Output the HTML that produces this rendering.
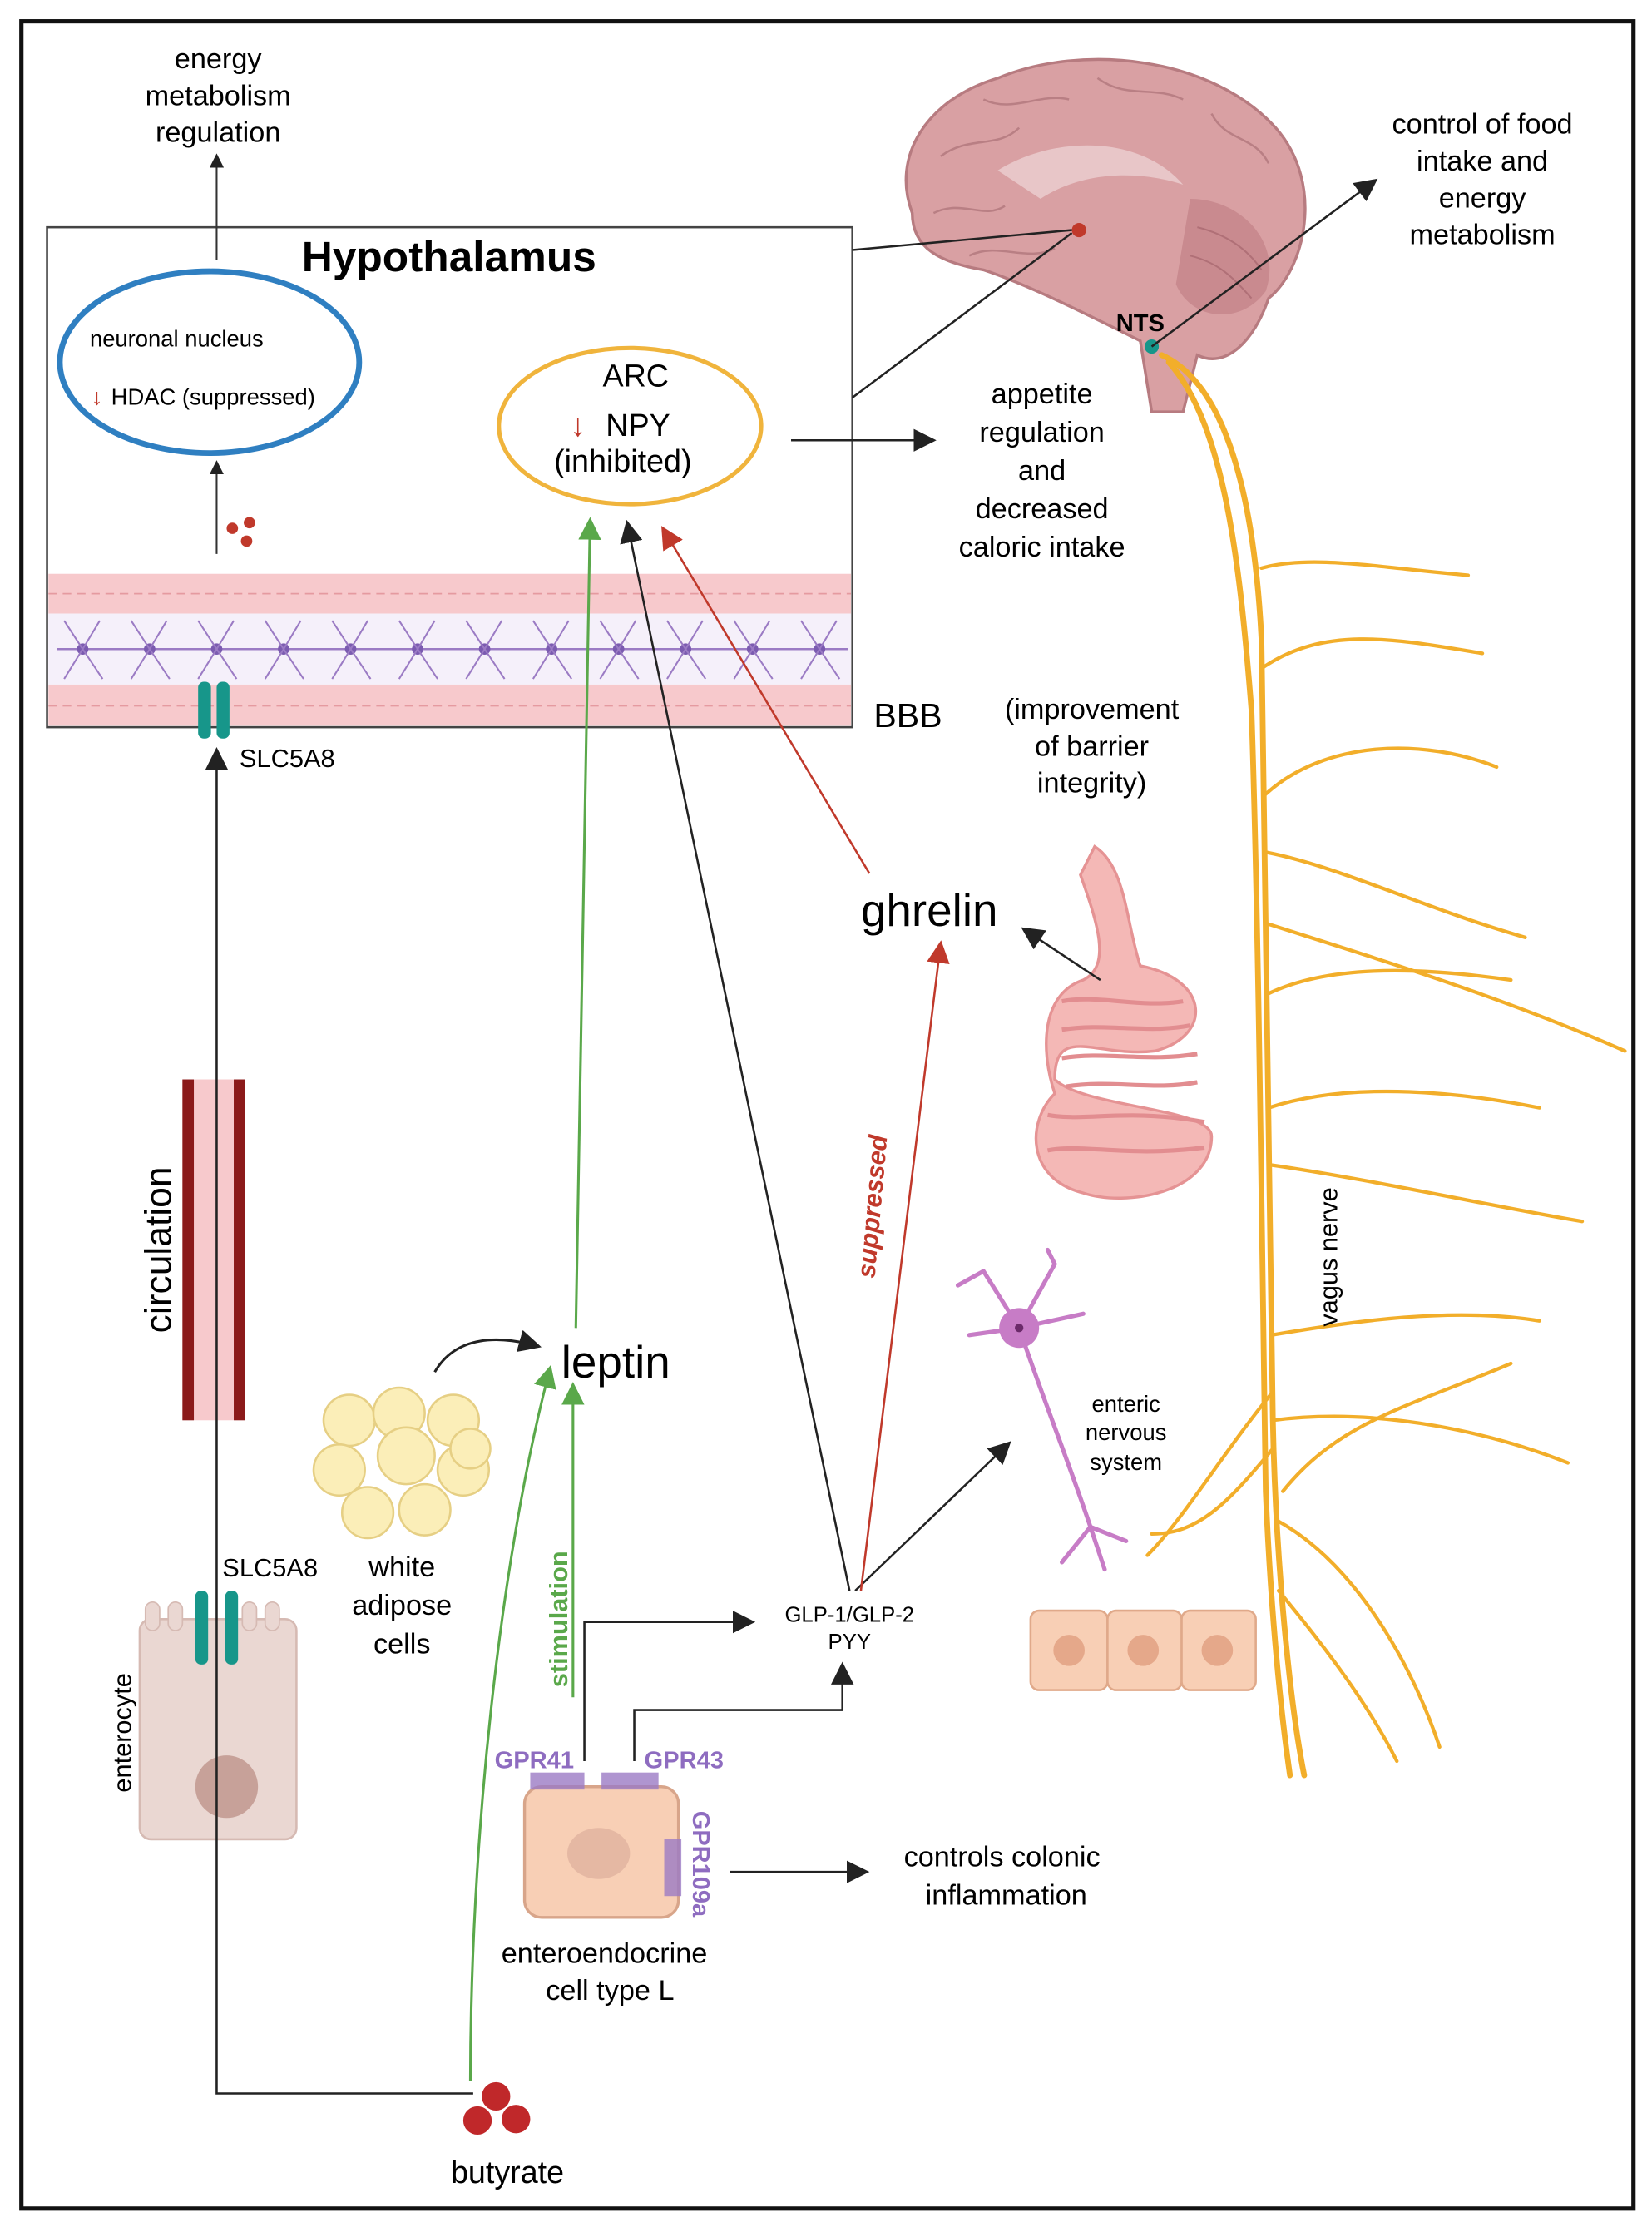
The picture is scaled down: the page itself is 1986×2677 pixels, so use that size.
<!DOCTYPE html>
<html><head><meta charset="utf-8"><style>
html,body{margin:0;padding:0;background:#fff}
svg{display:block}
text{font-family:"Liberation Sans",sans-serif}
</style></head><body>
<svg width="1986" height="2677" viewBox="0 0 1159 1568" preserveAspectRatio="none" xmlns="http://www.w3.org/2000/svg">
<defs>
<marker id="ak" markerWidth="10" markerHeight="10" refX="8" refY="5" orient="auto" markerUnits="userSpaceOnUse"><path d="M0,0 L10,5 L0,10 Z" fill="#222"/></marker>
<marker id="ak2" markerWidth="16" markerHeight="16" refX="14" refY="8" orient="auto" markerUnits="userSpaceOnUse"><path d="M0,0 L16,8 L0,16 Z" fill="#222"/></marker>
<marker id="ag" markerWidth="16" markerHeight="16" refX="14" refY="8" orient="auto" markerUnits="userSpaceOnUse"><path d="M0,0 L16,8 L0,16 Z" fill="#5aa84a"/></marker>
<marker id="ar" markerWidth="16" markerHeight="16" refX="14" refY="8" orient="auto" markerUnits="userSpaceOnUse"><path d="M0,0 L16,8 L0,16 Z" fill="#c0392b"/></marker>
</defs>
<rect x="0" y="0" width="1159" height="1568" fill="#fff"/>
<rect x="15" y="15" width="1131" height="1540" fill="none" stroke="#111" stroke-width="3"/>

<!-- hypothalamus box -->
<rect x="33" y="160" width="565" height="352" fill="#fff" stroke="#444" stroke-width="1.5"/>
<text x="315" y="191" font-size="30" font-weight="bold" text-anchor="middle">Hypothalamus</text>
<ellipse cx="147" cy="255" rx="105" ry="64" fill="none" stroke="#2f7fc1" stroke-width="4"/>
<text x="63" y="244" font-size="16">neuronal nucleus</text>
<text x="64" y="285" font-size="16" fill="#c0392b">↓</text>
<text x="78" y="285" font-size="16">HDAC  (suppressed)</text>
<ellipse cx="442" cy="300" rx="92" ry="55" fill="none" stroke="#f0b43c" stroke-width="3"/>
<text x="446" y="272" font-size="22" text-anchor="middle">ARC</text>
<text x="400" y="307" font-size="22" fill="#c0392b">↓</text>
<text x="425" y="307" font-size="22">NPY</text>
<text x="437" y="332" font-size="22" text-anchor="middle">(inhibited)</text>
<line x1="152" y1="390" x2="152" y2="326" stroke="#333" stroke-width="1.2" marker-end="url(#ak)"/>
<circle cx="163" cy="372" r="4" fill="#c0392b"/><circle cx="175" cy="368" r="4" fill="#c0392b"/><circle cx="173" cy="381" r="4" fill="#c0392b"/>
<line x1="152" y1="183" x2="152" y2="110" stroke="#333" stroke-width="1.2" marker-end="url(#ak)"/>
<text x="153" y="48" font-size="20" text-anchor="middle">energy</text>
<text x="153" y="74" font-size="20" text-anchor="middle">metabolism</text>
<text x="153" y="100" font-size="20" text-anchor="middle">regulation</text>

<!-- BBB -->
<rect x="34" y="404" width="563" height="28" fill="#f7c9cc"/>
<rect x="34" y="432" width="563" height="50" fill="#f5f0fa"/>
<rect x="34" y="482" width="563" height="29" fill="#f7c9cc"/>
<line x1="34" y1="418" x2="597" y2="418" stroke="#e59aa0" stroke-width="1" stroke-dasharray="6 4"/>
<line x1="34" y1="497" x2="597" y2="497" stroke="#e59aa0" stroke-width="1" stroke-dasharray="6 4"/>
<path d="M40,457 H595" stroke="#9b7bc4" stroke-width="1.5" fill="none"/>
<g fill="#7b5bb0">
<circle cx="58" cy="457" r="4"/><circle cx="105" cy="457" r="4"/><circle cx="152" cy="457" r="4"/><circle cx="199" cy="457" r="4"/><circle cx="246" cy="457" r="4"/><circle cx="293" cy="457" r="4"/><circle cx="340" cy="457" r="4"/><circle cx="387" cy="457" r="4"/><circle cx="434" cy="457" r="4"/><circle cx="481" cy="457" r="4"/><circle cx="528" cy="457" r="4"/><circle cx="575" cy="457" r="4"/>
</g>
<g stroke="#9b7bc4" stroke-width="1.2" fill="none">
<path d="M45,437 L58,457 L70,437 M45,478 L58,457 L72,478 M92,437 L105,457 L117,437 M92,478 L105,457 L119,478 M139,437 L152,457 L164,437 M139,478 L152,457 L166,478 M186,437 L199,457 L211,437 M186,478 L199,457 L213,478 M233,437 L246,457 L258,437 M233,478 L246,457 L260,478 M280,437 L293,457 L305,437 M280,478 L293,457 L307,478 M327,437 L340,457 L352,437 M327,478 L340,457 L354,478 M374,437 L387,457 L399,437 M374,478 L387,457 L401,478 M421,437 L434,457 L446,437 M421,478 L434,457 L448,478 M468,437 L481,457 L493,437 M468,478 L481,457 L495,478 M515,437 L528,457 L540,437 M515,478 L528,457 L542,478 M562,437 L575,457 L587,437 M562,478 L575,457 L589,478"/>
</g>
<rect x="139" y="480" width="9" height="40" rx="4" fill="#17968a"/>
<rect x="152" y="480" width="9" height="40" rx="4" fill="#17968a"/>
<text x="168" y="540" font-size="18">SLC5A8</text>
<text x="613" y="512" font-size="24">BBB</text>
<text x="766" y="506" font-size="20" text-anchor="middle">(improvement</text>
<text x="766" y="532" font-size="20" text-anchor="middle">of barrier</text>
<text x="766" y="558" font-size="20" text-anchor="middle">integrity)</text>

<!-- brain -->
<path d="M640,150 C625,110 650,70 700,55 C760,30 850,40 895,90 C930,130 915,190 890,210 C880,240 860,260 840,250 L830,290 L808,290 L800,240 C760,220 720,200 690,190 C660,185 640,175 640,150 Z" fill="#d9a0a3" stroke="#b77b80" stroke-width="2"/>
<g stroke="#b97f84" stroke-width="1.5" fill="none">
<path d="M660,110 C680,95 700,105 715,90 M690,70 C710,80 730,65 750,70 M770,55 C790,70 810,60 830,70 M850,80 C860,100 880,95 890,115 M655,150 C675,140 690,155 705,145 M680,180 C700,170 720,185 740,175"/>
</g>
<path d="M835,140 C870,140 900,170 888,205 C870,230 835,225 825,200 Z" fill="#c98a8f"/>
<g stroke="#b07077" stroke-width="1.2" fill="none"><path d="M840,160 C860,165 875,175 885,190 M835,180 C855,185 865,195 878,210"/></g>
<path d="M700,120 C740,95 800,95 830,130 C800,120 760,120 730,140 Z" fill="#e8c6c8"/>
<circle cx="757" cy="162" r="5" fill="#c0392b"/>
<line x1="598" y1="176" x2="752" y2="162" stroke="#222" stroke-width="1.5"/>
<line x1="598" y1="280" x2="752" y2="164" stroke="#222" stroke-width="1.5"/>
<text x="800" y="233" font-size="17" font-weight="bold" text-anchor="middle">NTS</text>
<circle cx="808" cy="244" r="5" fill="#17968a"/>
<line x1="808" y1="244" x2="965" y2="127" stroke="#222" stroke-width="1.5" marker-end="url(#ak2)"/>
<text x="1040" y="94" font-size="20" text-anchor="middle">control of food</text>
<text x="1040" y="120" font-size="20" text-anchor="middle">intake and</text>
<text x="1040" y="146" font-size="20" text-anchor="middle">energy</text>
<text x="1040" y="172" font-size="20" text-anchor="middle">metabolism</text>

<line x1="555" y1="310" x2="655" y2="310" stroke="#222" stroke-width="1.5" marker-end="url(#ak2)"/>
<text x="731" y="284" font-size="20" text-anchor="middle">appetite</text>
<text x="731" y="311" font-size="20" text-anchor="middle">regulation</text>
<text x="731" y="338" font-size="20" text-anchor="middle">and</text>
<text x="731" y="365" font-size="20" text-anchor="middle">decreased</text>
<text x="731" y="392" font-size="20" text-anchor="middle">caloric intake</text>

<!-- vagus nerve -->
<g stroke="#f2ae2a" stroke-width="4" fill="none" stroke-linecap="round">
<path d="M815,250 C860,270 880,350 885,450 C888,600 890,800 893,1000 C895,1100 905,1200 915,1250"/>
<path d="M820,255 C860,300 870,400 878,500 C883,650 885,850 888,1050 C890,1100 895,1180 905,1250"/>
</g>
<g stroke="#f2ae2a" stroke-width="2.5" fill="none" stroke-linecap="round">
<path d="M885,400 C920,390 970,400 1030,405"/>
<path d="M886,470 C930,440 980,450 1040,460"/>
<path d="M887,560 C930,520 1000,520 1050,540"/>
<path d="M888,600 C940,610 1000,640 1070,660"/>
<path d="M888,650 C950,670 1050,700 1140,740"/>
<path d="M889,700 C930,680 990,680 1060,690"/>
<path d="M890,780 C950,760 1030,770 1080,780"/>
<path d="M890,820 C960,830 1050,850 1110,860"/>
<path d="M892,940 C950,930 1020,920 1080,930"/>
<path d="M893,1000 C970,990 1050,1010 1100,1030"/>
<path d="M895,1070 C950,1100 990,1170 1010,1230"/>
<path d="M897,1120 C930,1160 960,1200 980,1240"/>
<path d="M893,980 C860,1020 830,1070 805,1095"/>
<path d="M893,1020 C860,1060 840,1080 808,1080"/>
<path d="M900,1050 C940,1000 990,990 1060,960"/>
</g>
<text x="938" y="885" font-size="18" text-anchor="middle" transform="rotate(-90 938 885)">vagus nerve</text>

<!-- gut -->
<path d="M768,596 C790,610 790,650 800,680 C850,690 850,730 810,740 C770,745 740,720 740,760 C760,780 850,780 850,800 C850,840 790,850 760,840 C720,830 720,790 740,770 C730,740 730,700 760,690 C780,680 770,650 758,616 Z" fill="#f4b8b6" stroke="#e59394" stroke-width="2"/>
<g stroke="#e28d90" stroke-width="3" fill="none">
<path d="M745,705 C770,700 800,710 830,705 M745,725 C775,720 805,728 835,722 M745,745 C775,740 805,748 840,742 M748,765 C780,760 810,768 840,762 M735,785 C760,790 790,780 845,790 M735,810 C760,805 790,815 845,808"/>
</g>
<line x1="772" y1="690" x2="718" y2="654" stroke="#222" stroke-width="1.5" marker-end="url(#ak2)"/>
<text x="652" y="652" font-size="32" text-anchor="middle">ghrelin</text>

<!-- neuron -->
<g stroke="#c77cc6" stroke-width="3" fill="none" stroke-linecap="round">
<path d="M715,935 C730,980 750,1030 765,1075"/>
<path d="M715,935 L690,895 M715,935 L740,890 M715,935 L680,940 M715,935 L760,925 M690,895 L672,905 M740,890 L735,880 M765,1075 L745,1100 M765,1075 L790,1085 M765,1075 L775,1105"/>
</g>
<circle cx="715" cy="935" r="14" fill="#c77cc6"/><circle cx="715" cy="935" r="3" fill="#6b2a6a"/>
<text x="790" y="994" font-size="16" text-anchor="middle">enteric</text>
<text x="790" y="1014" font-size="16" text-anchor="middle">nervous</text>
<text x="790" y="1035" font-size="16" text-anchor="middle">system</text>
<g fill="#f8cfb5" stroke="#e0a98a" stroke-width="1.5">
<rect x="723" y="1134" width="54" height="56" rx="6"/><rect x="777" y="1134" width="52" height="56" rx="6"/><rect x="829" y="1134" width="52" height="56" rx="6"/>
</g>
<g fill="#e5a88a"><circle cx="750" cy="1162" r="11"/><circle cx="802" cy="1162" r="11"/><circle cx="854" cy="1162" r="11"/></g>

<!-- circulation -->
<rect x="128" y="760" width="44" height="240" fill="#f7c9cc"/>
<rect x="128" y="760" width="8" height="240" fill="#8b1a1a"/>
<rect x="164" y="760" width="8" height="240" fill="#8b1a1a"/>
<text x="120" y="880" font-size="26" text-anchor="middle" transform="rotate(-90 120 880)">circulation</text>

<!-- enterocyte -->
<rect x="98" y="1140" width="110" height="155" rx="8" fill="#ead7d2" stroke="#d6bab3" stroke-width="1.5"/>
<g fill="#ead7d2" stroke="#d6bab3"><rect x="102" y="1128" width="10" height="20" rx="5"/><rect x="118" y="1128" width="10" height="20" rx="5"/><rect x="170" y="1128" width="10" height="20" rx="5"/><rect x="186" y="1128" width="10" height="20" rx="5"/></g>
<circle cx="159" cy="1258" r="22" fill="#c7a199"/>
<rect x="137" y="1120" width="9" height="52" rx="4" fill="#17968a"/><rect x="158" y="1120" width="9" height="52" rx="4" fill="#17968a"/>
<text x="156" y="1110" font-size="18">SLC5A8</text>
<text x="92" y="1220" font-size="18" text-anchor="middle" transform="rotate(-90 92 1220)">enterocyte</text>

<!-- adipose -->
<g fill="#fbeeb8" stroke="#e6cf84" stroke-width="1.5">
<circle cx="245" cy="1000" r="18"/><circle cx="280" cy="995" r="18"/><circle cx="318" cy="1000" r="18"/>
<circle cx="238" cy="1035" r="18"/><circle cx="285" cy="1025" r="20"/><circle cx="325" cy="1035" r="18"/>
<circle cx="258" cy="1065" r="18"/><circle cx="298" cy="1063" r="18"/><circle cx="330" cy="1020" r="14"/>
</g>
<path d="M305,966 C320,940 350,940 378,948" stroke="#222" stroke-width="1.8" fill="none" marker-end="url(#ak2)"/>
<text x="282" y="1110" font-size="20" text-anchor="middle">white</text>
<text x="282" y="1137" font-size="20" text-anchor="middle">adipose</text>
<text x="282" y="1164" font-size="20" text-anchor="middle">cells</text>
<text x="432" y="970" font-size="32" text-anchor="middle">leptin</text>

<!-- enteroendocrine -->
<rect x="368" y="1258" width="108" height="92" rx="12" fill="#f8cfb5" stroke="#d8a58a" stroke-width="2"/>
<ellipse cx="420" cy="1305" rx="22" ry="18" fill="#e5b8a3"/>
<rect x="372" y="1248" width="38" height="12" fill="#9b7bc4" opacity="0.8"/>
<rect x="422" y="1248" width="40" height="12" fill="#9b7bc4" opacity="0.8"/>
<rect x="466" y="1295" width="12" height="40" fill="#9b7bc4" opacity="0.8"/>
<text x="347" y="1245" font-size="17" font-weight="bold" fill="#8e6cc0">GPR41</text>
<text x="452" y="1245" font-size="17" font-weight="bold" fill="#8e6cc0">GPR43</text>
<text x="486" y="1275" font-size="17" font-weight="bold" fill="#8e6cc0" transform="rotate(90 486 1275)">GPR109a</text>
<text x="424" y="1382" font-size="20" text-anchor="middle">enteroendocrine</text>
<text x="428" y="1408" font-size="20" text-anchor="middle">cell type L</text>
<line x1="512" y1="1318" x2="608" y2="1318" stroke="#222" stroke-width="1.5" marker-end="url(#ak2)"/>
<text x="703" y="1314" font-size="20" text-anchor="middle">controls colonic</text>
<text x="706" y="1341" font-size="20" text-anchor="middle">inflammation</text>

<text x="596" y="1142" font-size="15" text-anchor="middle">GLP-1/GLP-2</text>
<text x="596" y="1161" font-size="15" text-anchor="middle">PYY</text>
<path d="M410,1240 V1142 H528" stroke="#222" stroke-width="1.5" fill="none" marker-end="url(#ak2)"/>
<path d="M445,1240 V1204 H591 V1172" stroke="#222" stroke-width="1.5" fill="none" marker-end="url(#ak2)"/>

<!-- butyrate -->
<circle cx="348" cy="1476" r="10" fill="#c0282a"/><circle cx="335" cy="1493" r="10" fill="#c0282a"/><circle cx="362" cy="1492" r="10" fill="#c0282a"/>
<text x="356" y="1537" font-size="22" text-anchor="middle">butyrate</text>
<path d="M332,1474 H152 V528" stroke="#222" stroke-width="1.5" fill="none" marker-end="url(#ak2)"/>

<!-- green arrows -->
<path d="M330,1465 C330,1300 350,1100 386,963" stroke="#5aa84a" stroke-width="1.8" fill="none" marker-end="url(#ag)"/>
<line x1="402" y1="1195" x2="402" y2="975" stroke="#5aa84a" stroke-width="1.8" marker-end="url(#ag)"/>
<text x="398" y="1140" font-size="18" font-weight="bold" fill="#5aa84a" text-anchor="middle" transform="rotate(-90 398 1140)">stimulation</text>
<line x1="404" y1="935" x2="414" y2="366" stroke="#5aa84a" stroke-width="1.8" marker-end="url(#ag)"/>

<!-- black to ARC -->
<line x1="596" y1="1120" x2="440" y2="368" stroke="#222" stroke-width="1.5" marker-end="url(#ak2)"/>
<line x1="600" y1="1120" x2="708" y2="1016" stroke="#222" stroke-width="1.5" marker-end="url(#ak2)"/>
<!-- red -->
<line x1="604" y1="1120" x2="660" y2="664" stroke="#c0392b" stroke-width="1.5" marker-end="url(#ar)"/>
<text x="618" y="850" font-size="18" font-weight="bold" font-style="italic" fill="#c0392b" text-anchor="middle" transform="rotate(-85 618 850)">suppressed</text>
<line x1="610" y1="615" x2="465" y2="372" stroke="#c0392b" stroke-width="1.5" marker-end="url(#ar)"/>
</svg>
</body></html>
